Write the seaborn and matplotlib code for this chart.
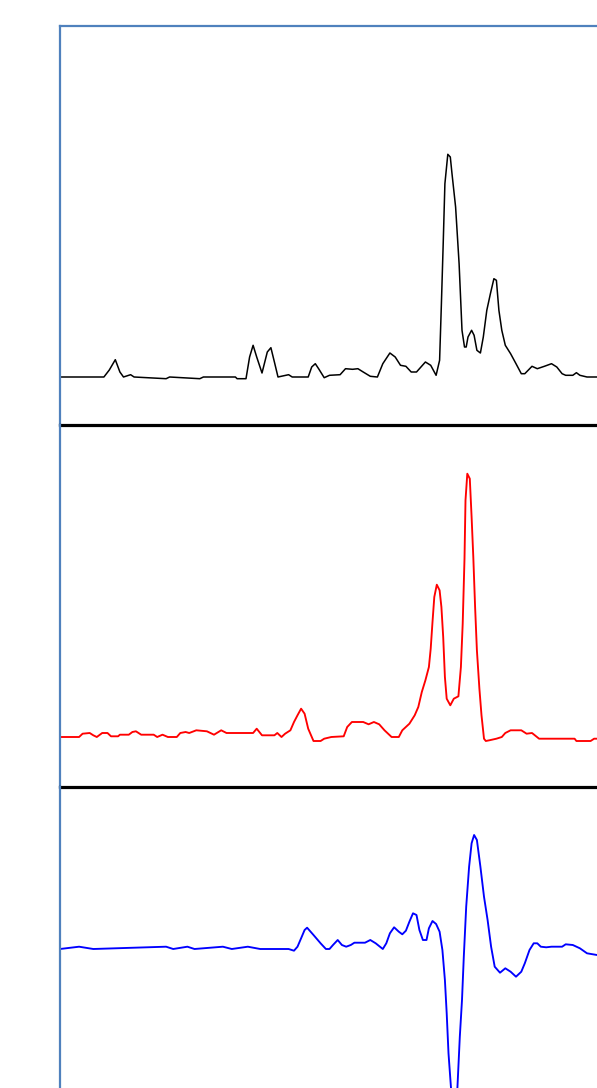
import matplotlib
matplotlib.use("Agg")
import matplotlib.pyplot as plt
import pandas as pd
import seaborn as sns

# Traces: sample position and signal height above baseline
black_x = [0, 43.9, 49.3, 55.3, 59.9, 63.5, 70.6, 74.1, 106.1, 109.6, 139.8, 143.4,
           175.4, 177.1, 186.0, 189.6, 193.1, 196.7, 202.0, 207.3, 210.9, 214.4, 218.0,
           228.6, 232.2, 248.2, 251.7, 255.3, 258.8, 264.2, 269.5, 280.1, 285.5, 292.6,
           297.9, 303.2, 310.3, 317.4, 322.8, 329.9, 335.2, 340.5, 345.9, 351.2, 356.5,
           365.4, 370.7, 376.1, 379.6, 381.4, 383.2, 384.9, 387.8, 390.3, 392.0, 395.6,
           399.1, 402.0, 404.5, 406.2, 408.0, 411.6, 414.1, 416.9, 420.4, 423.3, 426.8,
           430.4, 433.9, 436.4, 438.9, 441.8, 445.3, 450.6, 456.0, 461.3, 464.8, 472.0,
           477.3, 484.4, 491.5, 496.8, 502.1, 505.7, 512.8, 516.4, 519.9, 527.0, 537.0]
black_y = [0, 0, 7, 17.3, 5, 0, 2.3, 0, -1.7, 0, -1.7, 0,
           0, -1.7, -1.7, 20, 31.7, 20, 4, 25, 29.3, 15, 0,
           2.3, 0, 0, 10, 13.3, 8, -0.7, 1.7, 2.3, 8.3, 7.7,
           8.3, 5, 0.7, 0, 13.3, 24, 20, 11.7, 10.7, 5, 5,
           15, 11.7, 1.7, 16.7, 73.3, 133.3, 193.3, 222.7, 220, 203.3, 170,
           113.3, 46.7, 30, 30, 40, 46.7, 41.7, 26.7, 24, 40, 66.7,
           83.3, 98.3, 96.7, 66.7, 46.7, 31.7, 23.3, 13.3, 3.3, 3.3, 10.7,
           8.3, 10.7, 13.3, 10, 3.3, 1.7, 1.7, 4.3, 1.7, 0, 0]

red_x = [0, 19.1, 22.6, 29.7, 33.3, 36.8, 42.2, 47.5, 51.0, 58.1, 59.9, 68.8, 72.4,
         75.9, 81.2, 93.7, 97.2, 102.5, 107.9, 116.8, 120.3, 125.6, 129.2, 136.3,
         146.9, 154.0, 161.2, 166.5, 193.1, 196.7, 202.0, 214.4, 217.3, 221.5, 225.1,
         230.4, 234.0, 237.5, 241.1, 244.6, 248.2, 253.5, 260.6, 264.2, 271.3, 283.7,
         287.2, 291.9, 303.2, 308.6, 313.9, 319.2, 324.5, 331.6, 338.8, 342.3, 349.4,
         354.7, 358.3, 361.8, 365.4, 368.9, 370.7, 372.5, 374.3, 376.8, 379.6, 381.4,
         383.2, 384.9, 386.7, 390.3, 393.8, 398.4, 400.9, 402.7, 404.5, 405.5, 407.3,
         409.8, 411.6, 413.3, 415.1, 416.9, 419.4, 421.5, 424.0, 425.8, 429.3, 436.4,
         441.8, 445.3, 450.6, 461.3, 466.6, 472.0, 479.1, 514.6, 516.4, 530.6, 534.1, 537.0]
red_y = [0, 0, 3.3, 4, 1.7, 0, 4, 4, 0.7, 0.7, 2.3, 2.3, 5,
         5.7, 2.3, 2.3, 0, 2.3, 0, 0, 4, 5, 4, 6.7,
         5.7, 2.3, 6.7, 4, 4, 8.3, 1.7, 1.7, 4, 0, 3.3,
         6.7, 15, 21.7, 28.3, 23.3, 8.3, -4, -4, -1.7, 0, 0.7,
         10, 15, 15, 12.7, 15, 12.7, 6.7, 0, 0, 6.7, 13.3,
         21.7, 30, 45, 56.7, 70, 88.3, 115, 140, 152.3, 146.7, 130,
         100, 60, 38.3, 31.7, 38.3, 40.7, 70, 113.3, 178.3, 236.7, 263.3,
         258.3, 220, 180, 130, 86.7, 48.3, 21.7, -1.7, -4, -3.3, -1.7,
         0, 4, 6.7, 6.7, 3.3, 4, -1.7, -1.7, -4, -4, -1.7, -1.7]

blue_x = [0, 19.1, 33.3, 106.1, 113.2, 127.4, 134.5, 162.9, 171.8, 187.8, 200.2,
          228.6, 234.0, 237.5, 241.1, 244.6, 247.1, 253.5, 260.6, 265.9, 269.5, 273.0,
          277.7, 281.9, 286.2, 290.8, 294.4, 305.0, 310.3, 315.7, 322.8, 326.3, 329.9,
          334.1, 338.8, 342.3, 345.9, 349.4, 353.0, 356.5, 359.4, 362.9, 366.5, 368.9,
          372.5, 376.1, 379.6, 382.4, 384.9, 386.7, 388.5, 391.0, 394.5, 397.4, 399.8,
          402.0, 403.8, 406.2, 409.1, 411.6, 414.1, 416.9, 420.4, 424.0, 427.6, 431.1,
          434.7, 440.0, 445.3, 450.6, 456.0, 461.3, 464.8, 469.5, 473.7, 477.3, 480.8,
          486.2, 491.5, 502.1, 505.7, 512.8, 519.9, 527.0, 537.0]
blue_y = [0, 2.3, 0, 2.3, 0, 2.3, 0, 2.3, 0, 2.3, 0,
          0, -1.7, 2.3, 10.7, 19, 21.3, 14, 5.7, 0, 0, 4,
          9, 4, 2.3, 4, 6.3, 6.3, 9, 5.7, 0, 5.7, 15.7,
          21.7, 17.3, 14.7, 18.3, 27.3, 35.7, 34, 19, 9, 9, 20.7,
          28, 25, 17.3, -1, -31, -64.3, -104.3, -139, -165, -139, -88,
          -51, -7.7, 42.3, 82.3, 105.7, 114, 109, 82.3, 52.3, 29, 2.3,
          -17.7, -23.7, -19.3, -22.7, -27.7, -22.7, -14.3, -1, 5.7, 5.7, 2.3,
          1.7, 2.3, 2.3, 4.7, 4, 0.7, -4.3, -6]

sns.set_style("white")

W, H = 597, 1088
fig = plt.figure(figsize=(W / 100, H / 100), dpi=100)
frame_blue = "#4F81BD"

# panel edges in pixels (top, bottom), baseline row and stroke width
panels = [
    (black_x, black_y, "black", 26, 425, 377, 1.1),
    (red_x, red_y, "#FF0000", 425, 787, 737, 1.35),
    (blue_x, blue_y, "#0000FF", 787, 1088, 949, 1.35),
]

for i, (xs, ys, col, top, bottom, base, lw) in enumerate(panels):
    ax = fig.add_axes([60 / W, (H - bottom) / H, (W - 60) / W, (bottom - top) / H])
    df = pd.DataFrame({"x": xs, "y": ys})
    sns.lineplot(data=df, x="x", y="y", ax=ax, color=col, linewidth=lw,
                 estimator=None, sort=False)
    ax.set_xlim(0, W - 60)
    ax.set_ylim(-(bottom - base), base - top)
    ax.set_xticks([])
    ax.set_yticks([])
    ax.set_xlabel("")
    ax.set_ylabel("")
    ax.patch.set_alpha(0)
    ax.spines["right"].set_visible(False)
    ax.spines["left"].set_color(frame_blue)
    ax.spines["left"].set_linewidth(1.6)
    ax.spines["top"].set_visible(i == 0)
    ax.spines["top"].set_color(frame_blue)
    ax.spines["top"].set_linewidth(1.6)
    if i < 2:
        ax.spines["bottom"].set_color("black")
        ax.spines["bottom"].set_linewidth(2.3)
    else:
        ax.spines["bottom"].set_visible(False)

fig.savefig("out.png", dpi=100)
